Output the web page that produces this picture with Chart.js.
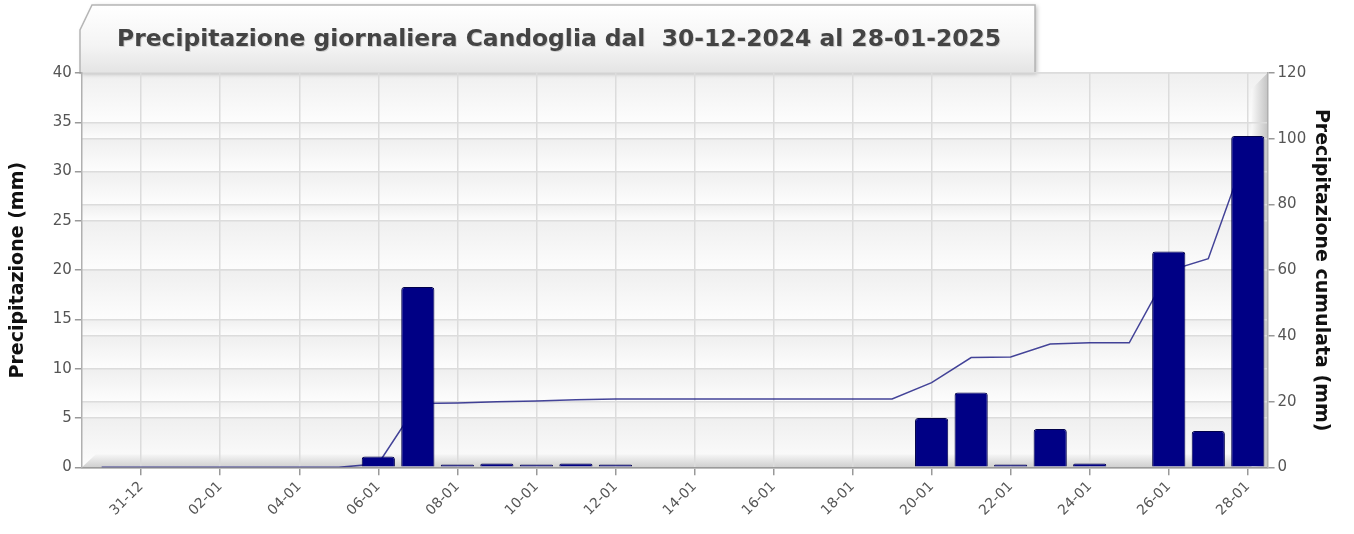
<!DOCTYPE html>
<html>
<head>
<meta charset="utf-8">
<script src="https://cdn.jsdelivr.net/npm/chart.js@4.4.1/dist/chart.umd.min.js"></script>
<style>
  html, body { margin: 0; padding: 0; background: #fff; }
  #wrap { width: 1354px; height: 534px; }
</style>
</head>
<body>
<div id="wrap"><canvas id="precChart" width="1354" height="534"></canvas></div>
<script>
// giorni dal 30-12-2024 al 28-01-2025
const giorni = ['30-12', '31-12', '01-01', '02-01', '03-01', '04-01', '05-01', '06-01', '07-01', '08-01',
  '09-01', '10-01', '11-01', '12-01', '13-01', '14-01', '15-01', '16-01', '17-01', '18-01',
  '19-01', '20-01', '21-01', '22-01', '23-01', '24-01', '25-01', '26-01', '27-01', '28-01'];

// precipitazione giornaliera (mm)
const pioggia = [0, 0, 0, 0, 0, 0, 0, 1.1, 18.3, 0.3,
  0.4, 0.3, 0.4, 0.3, 0, 0, 0, 0, 0, 0,
  0, 5.0, 7.6, 0.3, 3.9, 0.4, 0, 21.9, 3.7, 33.6];

// precipitazione cumulata (mm)
const cumulata = [0, 0, 0, 0, 0, 0, 0, 1.1, 19.4, 19.6,
  20.0, 20.2, 20.6, 20.8, 20.8, 20.8, 20.8, 20.8, 20.8, 20.8,
  20.8, 25.8, 33.4, 33.6, 37.5, 37.9, 37.9, 59.8, 63.5, 97.1];

const tickSinistra = [0, 5, 10, 15, 20, 25, 30, 35, 40];
const tickDestra = [0, 20, 40, 60, 80, 100, 120];

const titolo = 'Precipitazione giornaliera Candoglia dal  30-12-2024 al 28-01-2025';
const gridColor = '#dcdcdc';
const tickColor = '#555';

// sfondo a bande, pavimento, parete destra e titolo a linguetta
const sfondo3d = {
  id: 'sfondo3d',
  beforeDraw(chart) {
    const ctx = chart.ctx;
    const a = chart.chartArea;
    ctx.save();
    ctx.fillStyle = '#fff';
    ctx.fillRect(0, 0, chart.width, chart.height);

    let ys = [];
    tickSinistra.forEach(v => ys.push(chart.scales.y.getPixelForValue(v)));
    tickDestra.forEach(v => ys.push(chart.scales.y1.getPixelForValue(v)));
    ys.sort((p, q) => p - q);
    for (let i = 0; i < ys.length - 1; i++) {
      const t = ys[i], b = ys[i + 1];
      if (b - t < 1) continue;
      const g = ctx.createLinearGradient(0, t, 0, b);
      g.addColorStop(0, '#efefef');
      g.addColorStop(1, '#fdfdfd');
      ctx.fillStyle = g;
      ctx.fillRect(a.left, t, a.right - a.left, b - t);
    }

    // pavimento
    const fg = ctx.createLinearGradient(0, a.bottom - 13, 0, a.bottom);
    fg.addColorStop(0, '#f6f6f6');
    fg.addColorStop(1, '#cfcfcf');
    ctx.fillStyle = fg;
    ctx.beginPath();
    ctx.moveTo(a.left, a.bottom);
    ctx.lineTo(a.left + 14, a.bottom - 13);
    ctx.lineTo(a.right, a.bottom - 13);
    ctx.lineTo(a.right, a.bottom);
    ctx.closePath();
    ctx.fill();

    // parete destra
    const wg = ctx.createLinearGradient(a.right - 16, 0, a.right, 0);
    wg.addColorStop(0, '#f8f8f8');
    wg.addColorStop(1, '#c4c4c4');
    ctx.fillStyle = wg;
    ctx.beginPath();
    ctx.moveTo(a.right - 16, a.top + 16);
    ctx.lineTo(a.right, a.top);
    ctx.lineTo(a.right, a.bottom);
    ctx.lineTo(a.right - 16, a.bottom);
    ctx.closePath();
    ctx.fill();

    // linguetta del titolo
    const L = 80, R = 1035, T = 5, B = a.top;
    const tg = ctx.createLinearGradient(0, T, 0, B);
    tg.addColorStop(0, '#ffffff');
    tg.addColorStop(0.6, '#f4f4f4');
    tg.addColorStop(1, '#e4e4e4');
    ctx.shadowColor = 'rgba(0,0,0,0.25)';
    ctx.shadowBlur = 4;
    ctx.shadowOffsetX = 2;
    ctx.shadowOffsetY = 1;
    ctx.fillStyle = tg;
    ctx.beginPath();
    ctx.moveTo(L, B);
    ctx.lineTo(L, T + 25);
    ctx.lineTo(L + 12, T);
    ctx.lineTo(R, T);
    ctx.lineTo(R, B);
    ctx.closePath();
    ctx.fill();
    ctx.shadowColor = 'transparent';
    ctx.strokeStyle = '#b5b5b5';
    ctx.lineWidth = 1.5;
    ctx.stroke();

    // dimensione del titolo regolata sulla larghezza del riferimento
    let size = 23;
    ctx.font = 'bold ' + size + 'px "DejaVu Sans", sans-serif';
    size = size * 883 / ctx.measureText(titolo).width;
    ctx.font = 'bold ' + size.toFixed(1) + 'px "DejaVu Sans", sans-serif';
    ctx.textAlign = 'center';
    ctx.textBaseline = 'middle';
    ctx.fillStyle = 'rgba(0,0,0,0.15)';
    ctx.fillText(titolo, 559 + 1, 40 + 1);
    ctx.fillStyle = '#444';
    ctx.fillText(titolo, 559, 40);
    ctx.restore();
  }
};

const ctx = document.getElementById('precChart');
const chart = new Chart(ctx, {
  type: 'bar',
  data: {
    labels: giorni,
    datasets: [
      {
        type: 'bar',
        label: 'Precipitazione',
        data: pioggia,
        yAxisID: 'y',
        backgroundColor: '#000085',
        borderColor: '#00004a',
        borderWidth: 1,
        borderRadius: 3,
        borderSkipped: 'bottom',
        barPercentage: 0.84,
        categoryPercentage: 1,
        order: 1
      },
      {
        type: 'line',
        label: 'Cumulata',
        data: cumulata,
        yAxisID: 'y1',
        borderColor: 'rgba(35,35,135,0.85)',
        borderWidth: 1.5,
        pointRadius: 0,
        tension: 0,
        fill: false,
        order: 2
      }
    ]
  },
  options: {
    responsive: false,
    animation: false,
    layout: { padding: { top: 73, left: 7, right: 6, bottom: 12 } },
    plugins: {
      legend: { display: false },
      tooltip: { enabled: false }
    },
    scales: {
      x: {
        offset: true,
        grid: {
          offset: false,
          color: c => (c.index % 2 === 1 ? gridColor : 'transparent'),
          lineWidth: 1.5,
          tickLength: 8,
          tickColor: c => (c.index % 2 === 1 ? '#999' : 'transparent')
        },
        border: { color: '#9a9a9a', width: 1.5 },
        ticks: {
          autoSkip: false,
          maxRotation: 45,
          minRotation: 45,
          color: tickColor,
          font: { family: '"DejaVu Sans", sans-serif', size: 14 },
          callback: function (v, i) { return i % 2 === 1 ? giorni[i] : ''; }
        }
      },
      y: {
        position: 'left',
        min: 0,
        max: 40,
        ticks: { stepSize: 5, color: tickColor, font: { family: '"DejaVu Sans", sans-serif', size: 15 } },
        grid: { color: gridColor, lineWidth: 1.5, tickLength: 7, tickColor: '#999' },
        border: { color: '#b0b0b0', width: 1.5 },
        title: {
          display: true,
          text: 'Precipitazione (mm)',
          color: '#111',
          font: { family: '"DejaVu Sans", sans-serif', size: 19, weight: 'bold' },
          padding: { top: 0, bottom: 20 }
        }
      },
      y1: {
        position: 'right',
        min: 0,
        max: 120,
        ticks: { stepSize: 20, color: tickColor, font: { family: '"DejaVu Sans", sans-serif', size: 15 } },
        grid: { color: gridColor, lineWidth: 1.5, tickLength: 7, tickColor: '#999', drawOnChartArea: true },
        border: { color: '#b0b0b0', width: 1.5 },
        title: {
          display: true,
          text: 'Precipitazione cumulata (mm)',
          color: '#111',
          font: { family: '"DejaVu Sans", sans-serif', size: 19, weight: 'bold' },
          padding: { top: 16, bottom: 0 }
        }
      }
    }
  },
  plugins: [sfondo3d]
});
</script>
</body>
</html>
